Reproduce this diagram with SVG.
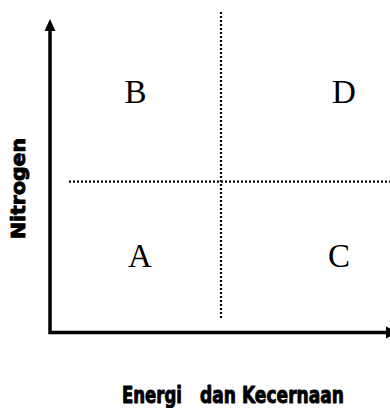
<svg xmlns="http://www.w3.org/2000/svg" width="390" height="408" viewBox="0 0 390 408">
<style>
.axis{stroke:#000;stroke-width:3.5;fill:none}
.dot{stroke:#000;stroke-width:2.2;stroke-dasharray:2 2;fill:none}
.q{font-family:"Liberation Serif","Times New Roman",serif;font-size:33px;fill:#000;text-anchor:middle}
.lab{font-family:"DejaVu Sans Condensed","DejaVu Sans",sans-serif;font-weight:bold;fill:#000;stroke:#000;stroke-width:0.9;stroke-linejoin:round}
</style>
<rect width="390" height="408" fill="#fff"/>
<g id="connectors">
<path class="axis" d="M50 29 V332.5 H387"/>
<polygon points="50,19 44.5,31 55.5,31" fill="#000"/>
<polygon points="398,332.5 386,326.5 386,338.5" fill="#000"/>
<line class="dot" x1="221" y1="12" x2="221" y2="318"/>
<line class="dot" x1="69" y1="181.7" x2="390" y2="181.7"/>
</g>
<g id="B"><text class="q" x="135.5" y="102.5">B</text></g>
<g id="D"><text class="q" x="344" y="102.5">D</text></g>
<g id="A"><text class="q" x="140" y="267">A</text></g>
<g id="C"><text class="q" x="339" y="267">C</text></g>
<g id="ylabel"><text class="lab" font-size="19.5" text-anchor="middle" transform="translate(25,188.5) rotate(-90)" textLength="101" lengthAdjust="spacingAndGlyphs">Nitrogen</text></g>
<g id="xlabel"><text class="lab" font-size="23" y="402.5"><tspan x="122" textLength="60" lengthAdjust="spacingAndGlyphs">Energi</tspan><tspan x="200" textLength="144" lengthAdjust="spacingAndGlyphs">dan Kecernaan</tspan></text></g>
</svg>
